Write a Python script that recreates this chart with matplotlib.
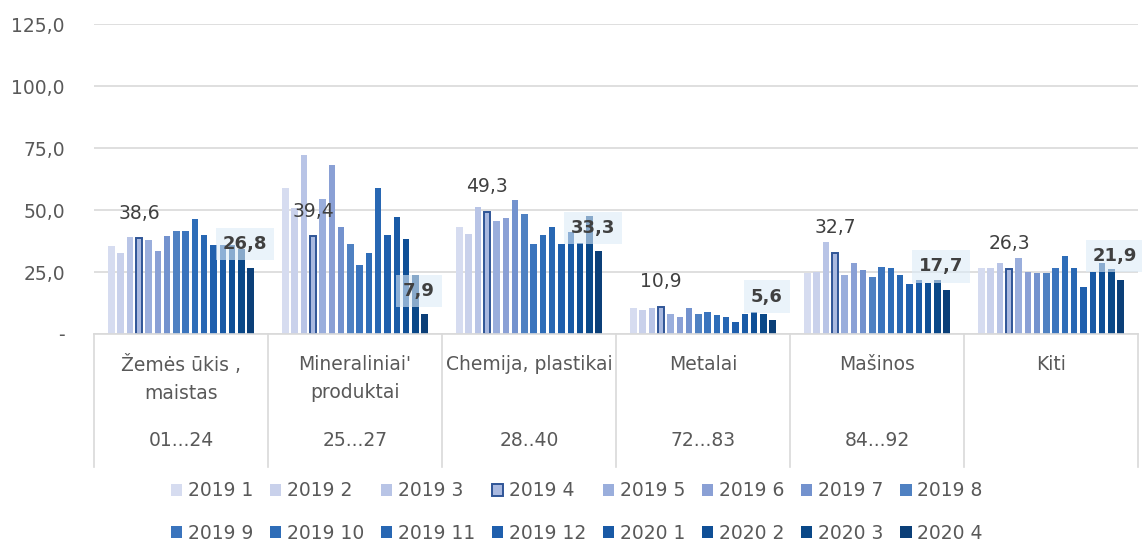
import numpy as np
import matplotlib
matplotlib.use("Agg")
import matplotlib.pyplot as plt
from matplotlib.patches import Patch

plt.rcParams['font.family'] = ['DejaVu Sans']

# kategorijos ir kodai
kategorijos = ["Žemės ūkis ,\nmaistas", "Mineraliniai'\nproduktai", "Chemija, plastikai",
               "Metalai", "Mašinos", "Kiti"]
kodai = ["01...24", "25...27", "28..40", "72...83", "84...92", ""]
serijos = ["2019 1", "2019 2", "2019 3", "2019 4", "2019 5", "2019 6", "2019 7", "2019 8",
           "2019 9", "2019 10", "2019 11", "2019 12", "2020 1", "2020 2", "2020 3", "2020 4"]

# reiksmes pagal kategorija (16 menesiu)
zemes = [35.5, 32.7, 39.1, 38.6, 37.8, 33.5, 39.7, 41.4, 41.4, 46.2, 39.9, 35.8, 35.8, 35.8, 34.3, 26.8]
mineral = [58.8, 51.0, 72.3, 39.4, 54.6, 68.0, 43.2, 36.4, 28.0, 32.7, 58.8, 39.9, 47.0, 38.4, 23.6, 7.9]
chemija = [43.2, 40.5, 51.1, 49.3, 45.5, 46.9, 53.9, 48.2, 36.4, 39.9, 43.2, 36.4, 41.1, 36.7, 47.6, 33.3]
metalai = [10.4, 9.6, 10.4, 10.9, 8.2, 6.8, 10.4, 8.2, 8.9, 7.7, 6.8, 4.7, 8.2, 8.9, 8.2, 5.6]
masinos = [24.6, 25.0, 37.2, 32.7, 23.6, 28.6, 25.7, 23.0, 27.2, 26.6, 23.6, 20.3, 21.6, 20.7, 21.6, 17.7]
kiti = [26.5, 26.5, 28.6, 26.3, 30.7, 25.0, 24.5, 24.5, 26.5, 31.5, 26.5, 18.8, 25.0, 28.6, 26.2, 21.9]

spalvos = ['#D6DCF0', '#C9D1EB', '#B8C4E6', '#A9B9E0', '#9AAEDC', '#8AA0D5', '#7392CE', '#4F81C2',
           '#3A74BD', '#2E6DB8', '#2867B3', '#1F5FAD', '#195AA6', '#0F4F96', '#0A4888', '#0B3F78']

data = np.array([zemes, mineral, chemija, metalai, masinos, kiti])
pilka = '#595959'
fs = 13.5

fig = plt.figure(figsize=(11.42, 5.42), dpi=100)
ax = fig.add_axes([94/1142, 1-334/542, 1044/1142, 310/542])

n = len(serijos)
slot = 0.0533
x0 = np.arange(len(kategorijos)) + 0.5
for j in range(n):
    xs = x0 + (j - (n-1)/2) * slot
    if j == 3:
        ax.bar(xs, data[:, j], width=0.037, color=spalvos[j], edgecolor='#2F5597', linewidth=1.4, zorder=3)
    else:
        ax.bar(xs, data[:, j], width=0.037, color=spalvos[j], zorder=3)

# etiketes: 2019 4 ir 2020 4
for i in range(len(kategorijos)):
    xa = x0[i] + (3 - (n-1)/2) * slot
    ax.annotate(f"{data[i, 3]:.1f}".replace('.', ','), (xa, data[i, 3]), xytext=(0, 18),
                textcoords='offset points', ha='center', va='center', fontsize=fs, color='#404040', zorder=5)
    xb = x0[i] + (n-1 - (n-1)/2) * slot
    ax.annotate(f"{data[i, -1]:.1f}".replace('.', ','), (xb, data[i, -1]), xytext=(-4, 17),
                textcoords='offset points', ha='center', va='center', fontsize=13, color='#404040',
                fontweight='bold', zorder=5, annotation_clip=False,
                bbox=dict(boxstyle='square,pad=0.4', fc='#DDEBF7', ec='none', alpha=0.6))

ax.set_xlim(0, 6)
ax.set_ylim(0, 125)
ax.set_yticks(np.arange(0, 126, 25))
ax.set_yticklabels(['-' if v == 0 else f"{v:.1f}".replace('.', ',') for v in np.arange(0, 126, 25)])
ax.tick_params(axis='y', length=0, pad=21, labelsize=fs, labelcolor=pilka)
ax.set_xticks([])
ax.grid(axis='y', color='#D9D9D9', linewidth=1.2, zorder=0)
for s in ['top', 'right', 'left']:
    ax.spines[s].set_visible(False)
ax.spines['bottom'].set_color('#D9D9D9')
ax.spines['bottom'].set_linewidth(1.2)
ax.spines['bottom'].set_zorder(4)

tr = ax.get_xaxis_transform()
for k in range(len(kategorijos) + 1):
    ax.plot([k, k], [0, -0.43], transform=tr, color='#D9D9D9', linewidth=1.2, clip_on=False)
for i in range(len(kategorijos)):
    ax.text(x0[i], -0.068, kategorijos[i], transform=tr, ha='center', va='top', fontsize=fs,
            color=pilka, linespacing=1.6)
    ax.text(x0[i], -0.342, kodai[i], transform=tr, ha='center', va='center', fontsize=fs, color=pilka)

# legenda, eilutemis
handles = []
for j in range(n):
    if j == 3:
        handles.append(Patch(facecolor=spalvos[j], edgecolor='#2F5597', linewidth=1.4, label=serijos[j]))
    else:
        handles.append(Patch(facecolor=spalvos[j], edgecolor='none', label=serijos[j]))
order = [r * 8 + c for c in range(8) for r in range(2)]
fig.legend([handles[k] for k in order], [serijos[k] for k in order], ncol=8, loc='center',
           bbox_to_anchor=(0.505, 1 - 512/542), frameon=False, fontsize=fs, labelcolor=pilka,
           handlelength=0.6, handleheight=0.6, handletextpad=0.3, columnspacing=0.9,
           labelspacing=1.25)

fig.savefig('out.png', dpi=100)
